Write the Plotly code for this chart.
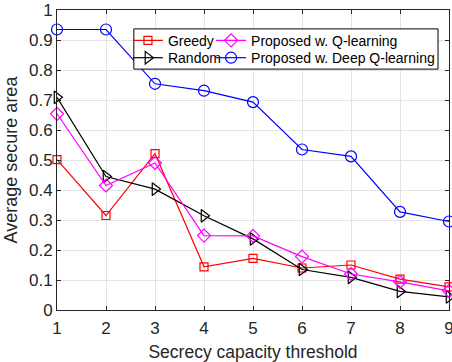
import plotly.graph_objects as go

x_vals = [1, 2, 3, 4, 5, 6, 7, 8, 9]
greedy = [0.501, 0.315, 0.521, 0.144, 0.172, 0.140, 0.150, 0.103, 0.077]
random_ = [0.709, 0.445, 0.403, 0.314, 0.237, 0.135, 0.109, 0.062, 0.044]
q_learning = [0.654, 0.415, 0.490, 0.248, 0.247, 0.178, 0.120, 0.094, 0.064]
deep_q = [0.935, 0.935, 0.754, 0.731, 0.693, 0.535, 0.512, 0.327, 0.295]

x_ticks = [1, 2, 3, 4, 5, 6, 7, 8, 9]
y_ticks = [0, 0.1, 0.2, 0.3, 0.4, 0.5, 0.6, 0.7, 0.8, 0.9, 1]
y_tick_text = ["0", "0.1", "0.2", "0.3", "0.4", "0.5", "0.6", "0.7", "0.8", "0.9", "1"]

FONT = "Liberation Sans, Arial, sans-serif"
AX = "#262626"

fig = go.Figure()

def add(y, name, color, symbol, size, legend):
    fig.add_trace(go.Scatter(
        x=x_vals, y=y, name=name, mode="lines+markers",
        line=dict(color=color, width=1.2),
        marker=dict(symbol=symbol, size=size, color=color,
                    line=dict(color=color, width=1.2)),
        legend=legend, cliponaxis=False,
    ))

add(greedy, "Greedy", "#ff0000", "square-open", 8, "legend")
add(random_, "Random", "#000000", "triangle-right-open", 11, "legend3")
add(q_learning, "Proposed w. Q-learning", "#ff00ff", "diamond-open", 10, "legend2")
add(deep_q, "Proposed w. Deep Q-learning", "#0000ff", "circle-open", 11, "legend4")

axis_common = dict(
    showgrid=True, gridcolor="#e3e3e3", gridwidth=1,
    showline=True, linecolor=AX, linewidth=1, mirror="ticks",
    ticks="inside", ticklen=4, tickcolor=AX,
    tickfont=dict(family=FONT, size=17, color=AX),
    zeroline=False, automargin=False, ticklabeloverflow="allow",
)

def leg(x, y):
    return dict(x=x, y=y, xanchor="left", yanchor="top",
                bgcolor="rgba(0,0,0,0)", borderwidth=0,
                font=dict(family=FONT, size=14, color="#000000"))

fig.update_layout(
    width=452, height=362,
    margin=dict(l=57, r=3, t=10, b=52),
    paper_bgcolor="white", plot_bgcolor="white",
    font=dict(family=FONT, color=AX),
    xaxis=dict(range=[1, 9], tickvals=x_ticks, ticklabelstandoff=3,
               title=dict(text="Secrecy capacity threshold",
                          font=dict(family=FONT, size=17.5, color=AX), standoff=8),
               **axis_common),
    yaxis=dict(range=[0, 1], tickvals=y_ticks, ticktext=y_tick_text,
               title=dict(text="Average secure area",
                          font=dict(family=FONT, size=18, color=AX), standoff=6),
               **axis_common),
    legend=leg(0.181, 0.951),
    legend3=leg(0.181, 0.893),
    legend2=leg(0.393, 0.951),
    legend4=leg(0.393, 0.893),
    shapes=[dict(type="rect", xref="paper", yref="paper",
                 x0=0.196, x1=0.972, y0=0.803, y1=0.937,
                 line=dict(color="#000000", width=1), fillcolor="white",
                 layer="above")],
    showlegend=True,
)

fig.write_html(
    "out.html",
    config={"displayModeBar": False},
    post_script="document.body.style.margin='0';document.body.style.overflow='hidden';",
)
